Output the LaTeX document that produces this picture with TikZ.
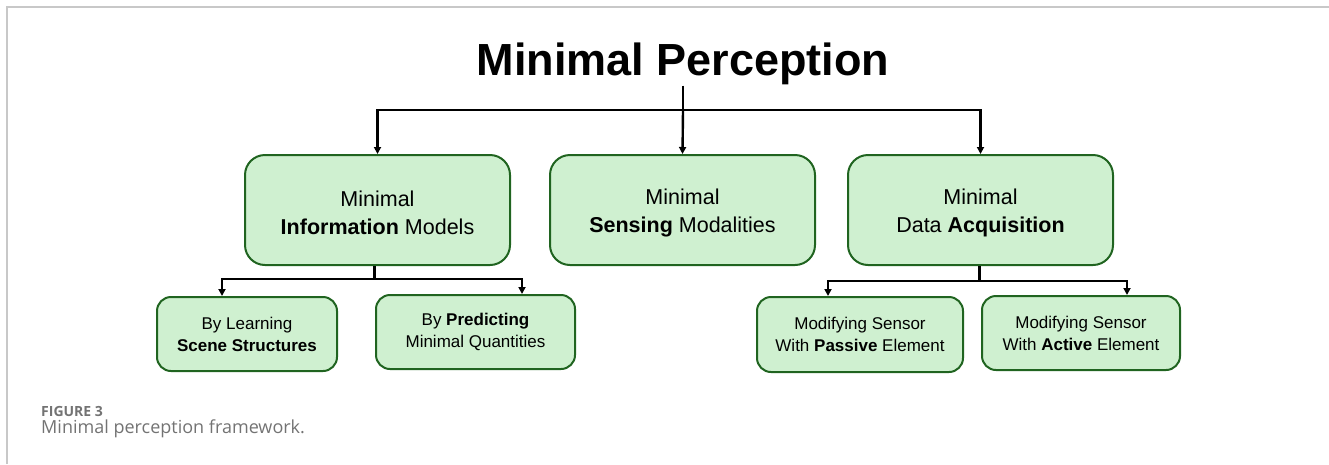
\documentclass[tikz,border=0pt]{standalone}
\usepackage{fontspec}
\setmainfont{Liberation Sans}
\newfontfamily\capfont{Open Sans}
\usepackage{xcolor}
\usetikzlibrary{positioning,calc,arrows.meta}

\definecolor{mpfill}{RGB}{207,240,208}
\definecolor{mpedge}{RGB}{32,100,32}
\definecolor{mpframe}{RGB}{200,200,200}
\definecolor{mpcap}{RGB}{115,115,115}

\newcommand{\mpstrut}{\rule{0pt}{22pt}}

\begin{document}
\begin{tikzpicture}[x=1pt, y=-1pt,
    mp block/.style={draw=mpedge, fill=mpfill, line width=2pt, rounded corners=20pt, minimum width=265pt, minimum height=110pt, align=center, inner sep=0pt, font=\fontsize{21.5}{28}\selectfont},
    mp leaf/.style={draw=mpedge, fill=mpfill, line width=2pt, rounded corners=14pt, minimum height=74pt, align=center, inner sep=0pt, font=\fontsize{17}{22}\selectfont},
    mp arrow/.style={line width=2.4pt, -{Triangle[length=7pt,width=7pt]}},
    mp line/.style={line width=2.4pt}]
    \useasboundingbox (0,0) rectangle (1329,464);
    % frame
    \draw[mpframe, line width=1.5pt] (7,464) -- (7,7) -- (1329,7);

    \node[anchor=base, inner sep=1pt, font=\fontsize{45}{50}\selectfont\bfseries] (title) at (683,75) {Minimal Perception};

    \node[mp block] (info) at (377.5,210) {\mpstrut Minimal\\\textbf{Information} Models};
    \node[mp block] (sens) at (682.5,210) {\mpstrut Minimal\\\textbf{Sensing} Modalities};
    \node[mp block] (acq) at (980.5,210) {\mpstrut Minimal\\Data \textbf{Acquisition}};

    \node[mp leaf, minimum width=180pt] (learn) at (247,334) {By Learning\\\textbf{Scene Structures}};
    \node[mp leaf, minimum width=199pt] (pred) at (475.5,332) {By \textbf{Predicting}\\Minimal Quantities};
    \node[mp leaf, minimum width=206pt, minimum height=75pt] (passive) at (860,334.5) {Modifying Sensor\\With \textbf{Passive} Element};
    \node[mp leaf, minimum width=198pt] (active) at (1081,333) {Modifying Sensor\\With \textbf{Active} Element};

    % title to first level
    \coordinate (j0) at (title.south |- 0,110);
    \draw[mp line] (title.south) -- (j0);
    \draw[mp arrow] (j0) -| (info.north);
    \draw[mp arrow] (j0) -- (sens.north);
    \draw[mp arrow] (j0) -| (acq.north);

    % first level to leaves
    \coordinate (j1) at ($(info.south)+(-3,13)$);
    \draw[mp line] (info.south -| j1) -- (j1);
    \draw[mp arrow] (j1) -| ([xshift=-25pt]learn.north);
    \draw[mp arrow] (j1) -| ([xshift=46.5pt]pred.north);

    \coordinate (j2) at ($(acq.south)+(-1,15)$);
    \draw[mp line] (acq.south -| j2) -- (j2);
    \draw[mp arrow] (j2) -| ([xshift=-32pt]passive.north);
    \draw[mp arrow] (j2) -| ([xshift=46pt]active.north);

    % caption
    \node[anchor=base west, inner sep=0pt, text=mpcap, font=\capfont\fontsize{14}{16}\selectfont\bfseries] (figno) at (41,416) {FIGURE 3};
    \node[anchor=base west, inner sep=0pt, text=mpcap, font=\capfont\fontsize{18}{20}\selectfont] (cap) at (41,433) {Minimal perception framework.};
\end{tikzpicture}
\end{document}
